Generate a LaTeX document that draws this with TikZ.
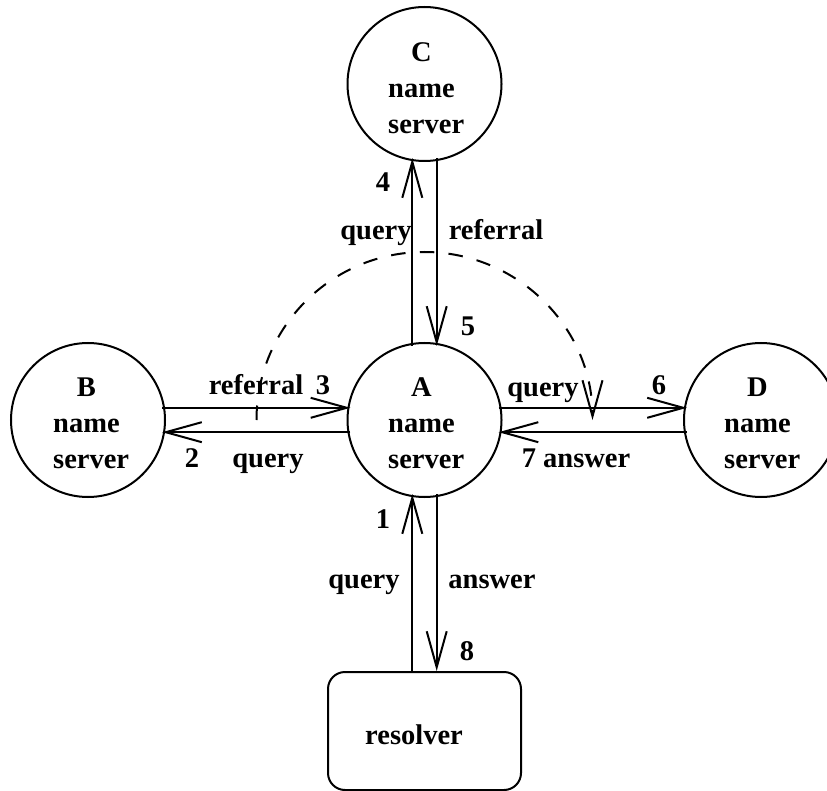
\documentclass[tikz,border=0pt]{standalone}
\usepackage{fontspec}
\setmainfont{Liberation Serif}
\usetikzlibrary{arrows.meta}
\newcommand{\srvtext}[1]{\makebox[2.333em][c]{#1}\\name\\server}
\tikzset{
  ns/.style={draw,circle,line width=2pt,minimum size=154pt,inner sep=0pt},
  nstext/.style={anchor=west,inner sep=0pt,align=left,font=\fontsize{28.5}{36}\selectfont\bfseries},
  rbox/.style={draw,rounded corners=17pt,line width=2pt,minimum width=193pt,minimum height=118pt},
  lab/.style={anchor=base,font=\fontsize{28.5}{30}\selectfont\bfseries,inner sep=0pt},
  flow/.style={line width=2pt,shorten >=-3pt,shorten <=-3pt,-{Straight Barb[length=36pt,width=20pt,line width=2pt]}},
  hop/.style={line width=2pt,dash pattern=on 14.5pt off 14.3pt,-{Straight Barb[length=36pt,width=20pt,line width=2pt]}}
}
\begin{document}
\begin{tikzpicture}[x=1pt,y=-1pt]
\useasboundingbox (0,0) rectangle (827,791);
\node[ns] (A) at (424.5,420) {};
\node[ns] (B) at (88,420) {};
\node[ns] (C) at (424.5,84) {};
\node[ns] (D) at (761,420) {};
\node[rbox] (R) at (424.5,731) {};
\node[nstext] (At) at (388,423) {\srvtext{A}};
\node[nstext] (Bt) at (53,423) {\srvtext{B}};
\node[nstext] (Ct) at (388,88) {\srvtext{C}};
\node[nstext] (Dt) at (724,423) {\srvtext{D}};
\node[lab] (Rt) at (414,744) {resolver};
\draw[flow] (A.99) -- (C.261);
\draw[flow] (C.279) -- (A.81);
\draw[flow] (B.9) -- (A.171);
\draw[flow] (A.189) -- (B.351);
\draw[flow] (A.9) -- (D.171);
\draw[flow] (D.189) -- (A.351);
\draw[flow,shorten <=0pt] (A.261 |- R.north) -- (A.261);
\draw[flow,shorten >=0pt] (A.279) -- (A.279 |- R.north);
\coordinate (ds) at (256.5,420);
\draw[hop] (ds) arc[start angle=180,end angle=360,radius=168];
\node[lab] (n4) at (383,192) {4};
\node[lab] (q4) at (376,240) {query};
\node[lab] (r5) at (496,240) {referral};
\node[lab] (n5) at (468,336) {5};
\node[lab] (r3) at (256,395) {referral};
\node[lab] (n3) at (323,395) {3};
\node[lab] (n2) at (192,467) {2};
\node[lab] (q2) at (268,467) {query};
\node[lab] (q6) at (543,396) {query};
\node[lab] (n6) at (659,395) {6};
\node[lab] (a7) at (576,467) {7 answer};
\node[lab] (n1) at (383,528) {1};
\node[lab] (q1) at (364,588) {query};
\node[lab] (a8) at (492,588) {answer};
\node[lab] (n8) at (467,660) {8};
\end{tikzpicture}
\end{document}
